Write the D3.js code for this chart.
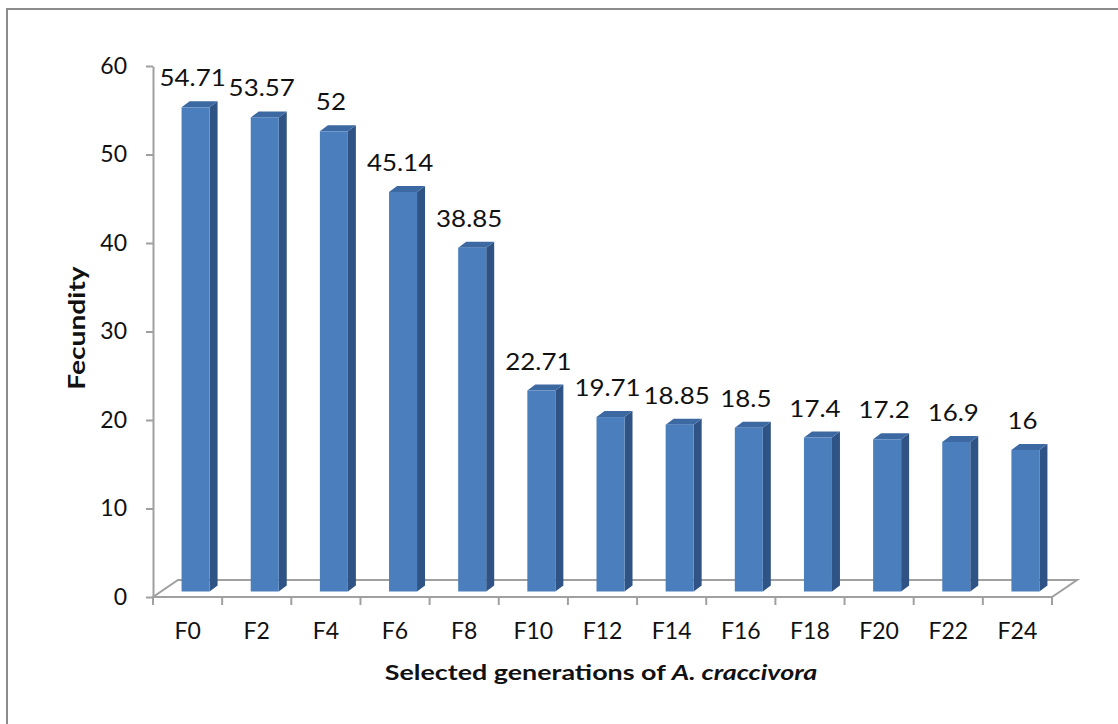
<!DOCTYPE html>
<html>
<head>
<meta charset="utf-8">
<script src="https://cdn.jsdelivr.net/npm/d3@7"></script>
<style>
  html, body { margin: 0; padding: 0; background: #fff; }
  svg { display: block; }
  text { font-family: Lato, "Open Sans", sans-serif; fill: #111; }
</style>
</head>
<body>
<svg id="chart" width="1118" height="724"></svg>
<script>
// Fecundity of A. craccivora across selected generations
const categories = ["F0", "F2", "F4", "F6", "F8", "F10", "F12", "F14", "F16", "F18", "F20", "F22", "F24"];
const fecundity = [54.71, 53.57, 52, 45.14, 38.85, 22.71, 19.71, 18.85, 18.5, 17.4, 17.2, 16.9, 16];
const yTicks = [0, 10, 20, 30, 40, 50, 60];

const svg = d3.select("#chart");

// outer chart border
svg.append("rect")
  .attr("x", 7).attr("y", 9)
  .attr("width", 1200).attr("height", 800)
  .attr("fill", "none").attr("stroke", "#8c8c8c").attr("stroke-width", 2);

const plot = { left: 153, right: 1052, bottom: 597, top: 66 };
// oblique depth of the floor and of the columns
const floorDepth = { dx: 25, dy: -17 };
const barShift = { dx: 8, dy: -5.5 };
const barDepth = { dx: 8, dy: -6 };

const x = d3.scaleBand()
  .domain(categories)
  .range([plot.left, plot.right])
  .paddingInner(0.595)
  .paddingOuter(0.2975);

const y = d3.scaleLinear().domain([0, 60]).range([plot.bottom, plot.top]);

const axisColor = "#a0a0a0";

// floor
const floor = [
  [plot.left, plot.bottom],
  [plot.right, plot.bottom],
  [plot.right + floorDepth.dx, plot.bottom + floorDepth.dy],
  [plot.left + floorDepth.dx, plot.bottom + floorDepth.dy]
];
svg.append("polygon")
  .attr("points", floor.map(p => p.join(",")).join(" "))
  .attr("fill", "none")
  .attr("stroke", axisColor)
  .attr("stroke-width", 2);

// category boundary ticks
const step = x.step();
svg.append("g").selectAll("line")
  .data(d3.range(categories.length + 1))
  .join("line")
  .attr("x1", i => plot.left + i * step)
  .attr("x2", i => plot.left + i * step)
  .attr("y1", plot.bottom)
  .attr("y2", plot.bottom + 8)
  .attr("stroke", axisColor)
  .attr("stroke-width", 2);

// y axis
const yAxis = svg.append("g")
  .attr("transform", `translate(${plot.left},0)`)
  .call(d3.axisLeft(y).tickValues(yTicks).tickSize(7).tickSizeOuter(0).tickPadding(19));
yAxis.select(".domain").attr("stroke", axisColor).attr("stroke-width", 2);
yAxis.selectAll(".tick line").attr("stroke", axisColor).attr("stroke-width", 2);
yAxis.selectAll(".tick text")
  .style("font-family", "Lato, sans-serif")
  .attr("font-size", 23)
  .attr("fill", "#111");

// x axis labels
const xAxis = svg.append("g")
  .attr("transform", `translate(0,${plot.bottom})`)
  .call(d3.axisBottom(x).tickSize(0).tickPadding(26));
xAxis.select(".domain").remove();
xAxis.selectAll(".tick text")
  .style("font-family", "Lato, sans-serif")
  .attr("font-size", 23)
  .attr("fill", "#111");

// 3D columns
const bars = svg.append("g")
  .attr("transform", `translate(${barShift.dx},${barShift.dy})`);

const data = categories.map((c, i) => ({ c, v: fecundity[i] }));
const bw = x.bandwidth();

const col = bars.selectAll("g.col").data(data).join("g").attr("class", "col");

// side face
col.append("polygon")
  .attr("points", d => {
    const x1 = x(d.c) + bw, yt = y(d.v), yb = y(0);
    return [[x1, yt], [x1 + barDepth.dx, yt + barDepth.dy], [x1 + barDepth.dx, yb + barDepth.dy], [x1, yb]]
      .map(p => p.join(",")).join(" ");
  })
  .attr("fill", "#2f5384");

// top face
col.append("polygon")
  .attr("points", d => {
    const x0 = x(d.c), yt = y(d.v);
    return [[x0, yt], [x0 + bw, yt], [x0 + bw + barDepth.dx, yt + barDepth.dy], [x0 + barDepth.dx, yt + barDepth.dy]]
      .map(p => p.join(",")).join(" ");
  })
  .attr("fill", "#3c69a2");

// front face
col.append("rect")
  .attr("x", d => x(d.c))
  .attr("y", d => y(d.v))
  .attr("width", bw)
  .attr("height", d => y(0) - y(d.v))
  .attr("fill", "#4a7ebd");

// value labels, slightly widened to the chart's label face
const labelStretch = 1.08;
col.append("text")
  .attr("transform", d => `translate(${x(d.c) + bw / 2 - 3},${y(d.v) + barDepth.dy - 15}) scale(${labelStretch},1)`)
  .attr("text-anchor", "middle")
  .attr("font-size", 24)
  .text(d => String(d.v));

// axis titles (wide bold face)
const titleStretch = 1.28;
svg.append("text")
  .attr("transform", `translate(85,328) rotate(-90) scale(${titleStretch},1)`)
  .attr("text-anchor", "middle")
  .attr("font-weight", "bold")
  .attr("font-size", 22)
  .text("Fecundity");

const xt = svg.append("text")
  .attr("transform", `translate(601,680) scale(${titleStretch},1)`)
  .attr("text-anchor", "middle")
  .attr("font-weight", "bold")
  .attr("font-size", 21);
xt.append("tspan").text("Selected generations of ");
xt.append("tspan").attr("font-style", "italic").text("A. craccivora");
</script>
</body>
</html>
